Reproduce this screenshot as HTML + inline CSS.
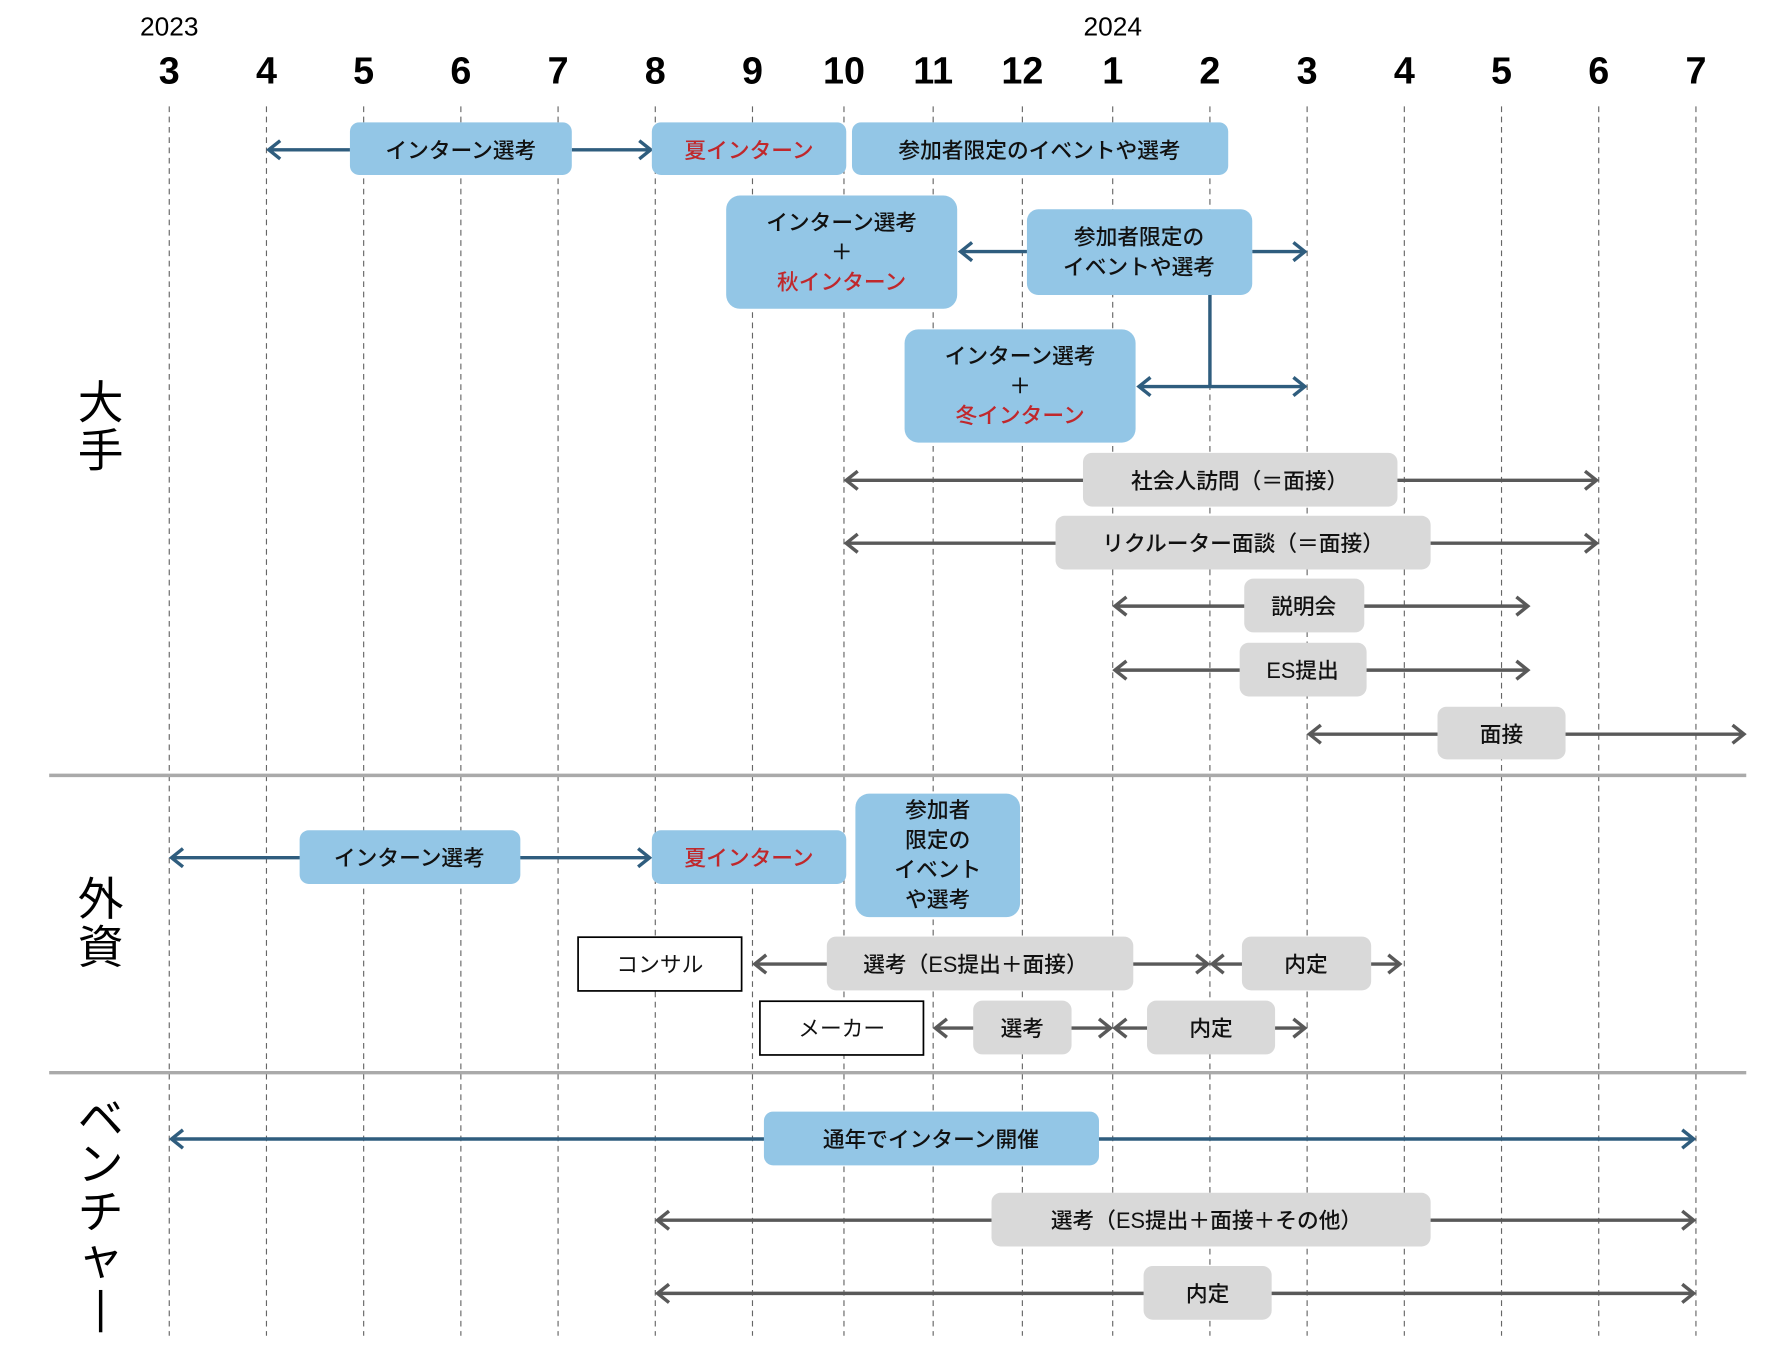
<!DOCTYPE html>
<html><head><meta charset="utf-8"><style>
html,body{margin:0;padding:0;background:#fff;}
svg{display:block;}
text{font-family:"Liberation Sans","Noto Sans CJK JP",sans-serif;}
.t{font-size:19px;font-weight:500;fill:#111;text-anchor:middle;}
.r{fill:#c0282c;}
.m{font-size:33px;font-weight:bold;text-anchor:middle;fill:#000;}
.y{font-size:23px;text-anchor:middle;fill:#000;}
.s{font-size:40px;text-anchor:middle;fill:#000;}
.b{fill:#93c6e6;}
.g{fill:#d9d9d9;}
.ab{stroke:#2f5d7e;stroke-width:3;fill:none;marker-start:url(#hb);marker-end:url(#hb);}
.ag{stroke:#595959;stroke-width:3;fill:none;marker-start:url(#hg);marker-end:url(#hg);}
</style></head><body>
<svg width="1784" height="1346" viewBox="0 0 1560 1177" xmlns="http://www.w3.org/2000/svg">
<defs>
<marker id="hb" markerUnits="userSpaceOnUse" markerWidth="20" markerHeight="24" refX="14" refY="10" orient="auto-start-reverse" viewBox="0 0 20 20"><path d="M4,2 L14,10 L4,18" fill="none" stroke="#2f5d7e" stroke-width="3"/></marker>
<marker id="hg" markerUnits="userSpaceOnUse" markerWidth="20" markerHeight="24" refX="14" refY="10" orient="auto-start-reverse" viewBox="0 0 20 20"><path d="M4,2 L14,10 L4,18" fill="none" stroke="#595959" stroke-width="3"/></marker>
</defs>
<g stroke="#666" stroke-width="1" stroke-dasharray="5,4">
<line x1="148" y1="93" x2="148" y2="1168"/><line x1="233" y1="93" x2="233" y2="1168"/><line x1="318" y1="93" x2="318" y2="1168"/><line x1="403" y1="93" x2="403" y2="1168"/><line x1="488" y1="93" x2="488" y2="1168"/><line x1="573" y1="93" x2="573" y2="1168"/><line x1="658" y1="93" x2="658" y2="1168"/><line x1="738" y1="93" x2="738" y2="1168"/><line x1="816" y1="93" x2="816" y2="1168"/><line x1="894" y1="93" x2="894" y2="1168"/><line x1="973" y1="93" x2="973" y2="1168"/><line x1="1058" y1="93" x2="1058" y2="1168"/><line x1="1143" y1="93" x2="1143" y2="1168"/><line x1="1228" y1="93" x2="1228" y2="1168"/><line x1="1313" y1="93" x2="1313" y2="1168"/><line x1="1398" y1="93" x2="1398" y2="1168"/><line x1="1483" y1="93" x2="1483" y2="1168"/>
</g>
<text class="y" x="148" y="31">2023</text><text class="y" x="973" y="31">2024</text>
<g>
<text class="m" x="148" y="73">3</text><text class="m" x="233" y="73">4</text><text class="m" x="318" y="73">5</text><text class="m" x="403" y="73">6</text><text class="m" x="488" y="73">7</text><text class="m" x="573" y="73">8</text><text class="m" x="658" y="73">9</text><text class="m" x="738" y="73">10</text><text class="m" x="816" y="73">11</text><text class="m" x="894" y="73">12</text><text class="m" x="973" y="73">1</text><text class="m" x="1058" y="73">2</text><text class="m" x="1143" y="73">3</text><text class="m" x="1228" y="73">4</text><text class="m" x="1313" y="73">5</text><text class="m" x="1398" y="73">6</text><text class="m" x="1483" y="73">7</text>
</g>
<line x1="43" y1="678" x2="1527" y2="678" stroke="#aaa" stroke-width="3"/>
<line x1="43" y1="938" x2="1527" y2="938" stroke="#aaa" stroke-width="3"/>
<text class="s" x="88" y="366">大</text><text class="s" x="88" y="408">手</text>
<text class="s" x="88" y="800">外</text><text class="s" x="88" y="842">資</text>
<text class="s" x="88" y="992">ベ</text><text class="s" x="88" y="1032">ン</text><text class="s" x="88" y="1074">チ</text><text class="s" x="88" y="1114">ャ</text>
<line x1="88" y1="1128" x2="88" y2="1165" stroke="#000" stroke-width="3"/>

<!-- arrows -->
<line class="ab" x1="235" y1="131" x2="306" y2="131" style="marker-end:none"/>
<line class="ab" x1="500" y1="131" x2="569" y2="131" style="marker-start:none"/>
<line class="ab" x1="840" y1="220" x2="898" y2="220" style="marker-end:none"/>
<line class="ab" x1="1095" y1="220" x2="1141" y2="220" style="marker-start:none"/>
<line x1="1058" y1="258" x2="1058" y2="338" stroke="#2f5d7e" stroke-width="3"/>
<line class="ab" x1="996" y1="338" x2="1141" y2="338"/>
<line class="ag" x1="740" y1="420" x2="1396" y2="420"/>
<line class="ag" x1="740" y1="475" x2="1396" y2="475"/>
<line class="ag" x1="975" y1="530" x2="1336" y2="530"/>
<line class="ag" x1="975" y1="586" x2="1336" y2="586"/>
<line class="ag" x1="1145" y1="642" x2="1525" y2="642"/>
<line class="ab" x1="150" y1="750" x2="568" y2="750"/>
<line class="ag" x1="660" y1="843" x2="1056" y2="843"/>
<line class="ag" x1="1060" y1="843" x2="1224" y2="843"/>
<line class="ag" x1="818" y1="899" x2="971" y2="899"/>
<line class="ag" x1="975" y1="899" x2="1141" y2="899"/>
<line class="ab" x1="150" y1="996" x2="1481" y2="996"/>
<line class="ag" x1="575" y1="1067" x2="1481" y2="1067"/>
<line class="ag" x1="575" y1="1131" x2="1481" y2="1131"/>

<!-- blue boxes -->
<rect class="b" x="306" y="107" width="194" height="46" rx="8"/><text class="t" x="403" y="138">インターン選考</text>
<rect class="b" x="570" y="107" width="170" height="46" rx="8"/><text class="t r" x="655" y="138">夏インターン</text>
<rect class="b" x="745" y="107" width="329" height="46" rx="8"/><text class="t" x="909" y="138">参加者限定のイベントや選考</text>
<rect class="b" x="635" y="171" width="202" height="99" rx="12"/><text class="t" x="736" y="201">インターン選考</text><text class="t" x="736" y="227">＋</text><text class="t r" x="736" y="253">秋インターン</text>
<rect class="b" x="898" y="183" width="197" height="75" rx="10"/><text class="t" x="996" y="214">参加者限定の</text><text class="t" x="996" y="240">イベントや選考</text>
<rect class="b" x="791" y="288" width="202" height="99" rx="12"/><text class="t" x="892" y="318">インターン選考</text><text class="t" x="892" y="344">＋</text><text class="t r" x="892" y="370">冬インターン</text>
<rect class="b" x="262" y="726" width="193" height="47" rx="8"/><text class="t" x="358" y="757">インターン選考</text>
<rect class="b" x="570" y="726" width="170" height="47" rx="8"/><text class="t r" x="655" y="757">夏インターン</text>
<rect class="b" x="748" y="694" width="144" height="108" rx="12"/><text class="t" x="820" y="715">参加者</text><text class="t" x="820" y="741">限定の</text><text class="t" x="820" y="767">イベント</text><text class="t" x="820" y="793">や選考</text>
<rect class="b" x="668" y="972" width="293" height="47" rx="8"/><text class="t" x="814" y="1003">通年でインターン開催</text>

<!-- gray boxes -->
<rect class="g" x="947" y="396" width="275" height="47" rx="8"/><text class="t" x="1084" y="427">社会人訪問（＝面接）</text>
<rect class="g" x="923" y="451" width="328" height="47" rx="8"/><text class="t" x="1087" y="482">リクルーター面談（＝面接）</text>
<rect class="g" x="1088" y="506" width="105" height="47" rx="8"/><text class="t" x="1140" y="537">説明会</text>
<rect class="g" x="1084" y="562" width="111" height="47" rx="8"/><text class="t" x="1139" y="593">ES提出</text>
<rect class="g" x="1257" y="618" width="112" height="46" rx="8"/><text class="t" x="1313" y="649">面接</text>
<rect class="g" x="723" y="819" width="268" height="47" rx="8"/><text class="t" x="853" y="850">選考（ES提出＋面接）</text>
<rect class="g" x="1086" y="819" width="113" height="47" rx="8"/><text class="t" x="1142" y="850">内定</text>
<rect class="g" x="851" y="875" width="86" height="47" rx="8"/><text class="t" x="894" y="906">選考</text>
<rect class="g" x="1003" y="875" width="112" height="47" rx="8"/><text class="t" x="1059" y="906">内定</text>
<rect class="g" x="867" y="1043" width="384" height="47" rx="8"/><text class="t" x="1055" y="1074">選考（ES提出＋面接＋その他）</text>
<rect class="g" x="1000" y="1107" width="112" height="47" rx="8"/><text class="t" x="1056" y="1138">内定</text>

<!-- white boxes -->
<rect x="505.5" y="819.5" width="143" height="47" fill="#fff" stroke="#000" stroke-width="1.5"/><text class="t" x="577" y="850" style="font-weight:400">コンサル</text>
<rect x="664.5" y="875.5" width="143" height="47" fill="#fff" stroke="#000" stroke-width="1.5"/><text class="t" x="736" y="906" style="font-weight:400">メーカー</text>
</svg>
</body></html>
